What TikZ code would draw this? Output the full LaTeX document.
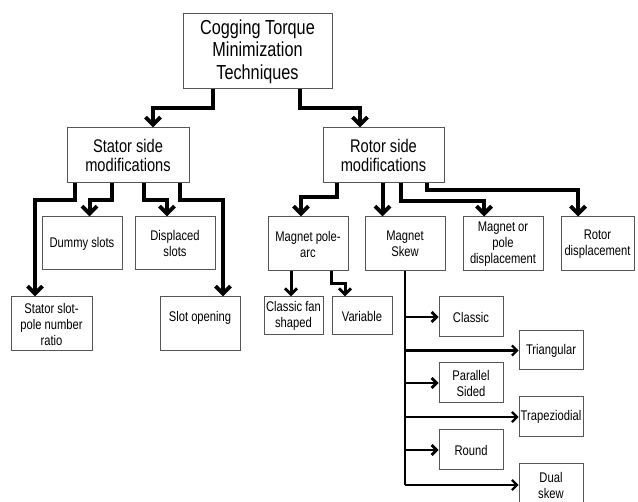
\documentclass[tikz,border=0pt]{standalone}
\usepackage{fontspec}
\setmainfont{Liberation Sans}[FakeStretch=0.8]
\usetikzlibrary{arrows.meta}
\definecolor{boxgray}{HTML}{555555}
\newcommand\cgsmall{\fontsize{14}{16}\selectfont}
\newcommand\cgmid{\fontsize{18.3}{18.5}\selectfont}
\newcommand\cgbig{\fontsize{20.3}{22.7}\selectfont}
\begin{document}
\begin{tikzpicture}[x=1pt,y=-1pt,
  box/.style={draw=boxgray, line width=1pt, rectangle, align=center, inner sep=0pt, font=\cgsmall, minimum width=80pt, minimum height=54pt},
  conn/.style={line width=4pt, -{Straight Barb[length=7.5pt,width=15pt]}},
  mconn/.style={line width=3pt, -{Straight Barb[length=6pt,width=12pt]}},
  nearbr/.style={line width=2.8pt, -{Straight Barb[length=5pt,width=10pt]}},
  farbr/.style={line width=2.2pt, -{Straight Barb[length=5pt,width=10pt]}},
  trunk/.style={line width=2.5pt}]
\clip (0,0) rectangle (638,502);
\fill[white] (0,0) rectangle (638,502);
% boxes
\node[box, font=\cgbig, minimum width=149pt, minimum height=75pt] (root) at (257.5,51.5) {Cogging Torque\\Minimization\\Techniques};
\node[box, font=\cgmid, minimum width=122pt, minimum height=55pt] (stator) at (128,155.5) {Stator side\\modifications};
\node[box, font=\cgmid, minimum width=121pt, minimum height=55pt] (rotor) at (383.5,155.5) {Rotor side\\modifications};
\node[box, minimum width=81pt] (slotpole) at (51.5,324) {Stator slot-\\pole number\\ratio};
\node[box, minimum height=53pt] (dummy) at (82,243.5) {Dummy slots};
\node[box, minimum height=53pt] (displaced) at (175,243.5) {Displaced\\slots};
\node[box] (slotopen) at (200,324) {Slot opening\\\mbox{}};
\node[box] (polearc) at (308,244) {Magnet pole-\\arc};
\node[box] (skew) at (405,244) {Magnet\\Skew};
\node[box] (magpole) at (503,244) {Magnet or\\pole\\displacement};
\node[box, minimum width=73pt] (rotordisp) at (597.5,244) {Rotor\\displacement};
\node[box, minimum width=59pt, minimum height=38pt] (fan) at (293.5,316) {Classic fan\\shaped};
\node[box, minimum width=60pt, minimum height=38pt] (variable) at (362,316) {Variable};
\node[box, minimum width=64pt, minimum height=40pt] (classic) at (471,317) {Classic};
\node[box, minimum width=64pt, minimum height=39pt] (triangular) at (551,350.5) {Triangular};
\node[box, minimum width=64pt, minimum height=40pt] (parallel) at (471,383) {Parallel\\Sided};
\node[box, minimum width=64pt, minimum height=40pt] (trapez) at (551,417) {Trapeziodial};
\node[box, minimum width=64pt, minimum height=40pt] (round) at (471,450) {Round};
\node[box, minimum width=64pt, minimum height=42pt] (dual) at (551,485) {Dual\\skew};
% root connectors
\draw[conn] ([xshift=-44.5pt]root.south) -- ++(0,19) -| ([xshift=25pt]stator.north);
\draw[conn] ([xshift=42.5pt]root.south) -- ++(0,19) -| ([xshift=-23.5pt]rotor.north);
% stator connectors
\draw[conn] ([xshift=-53pt]stator.south) -- ++(0,17) -| ([xshift=-16.5pt]slotpole.north);
\draw[conn] ([xshift=-16pt]stator.south) -- ++(0,17) -| ([xshift=7.5pt]dummy.north);
\draw[conn] ([xshift=16pt]stator.south) -- ++(0,17) -| ([xshift=-8pt]displaced.north);
\draw[conn] ([xshift=52pt]stator.south) -- ++(0,17) -| ([xshift=23pt]slotopen.north);
% rotor connectors
\draw[conn] ([xshift=-46.5pt]rotor.south) -- ++(0,14) -| ([xshift=-7pt]polearc.north);
\draw[conn] ([xshift=-1pt]rotor.south) -- ([xshift=-1pt]rotor.south |- skew.north);
\draw[conn] ([xshift=17.5pt]rotor.south) -- ++(0,18) -| ([xshift=-19pt]magpole.north);
\draw[conn] ([xshift=43.5pt]rotor.south) -- ++(0,7) -| ([xshift=-19.5pt]rotordisp.north);
% pole-arc connectors
\draw[mconn] ([xshift=-17pt]polearc.south) -- ([xshift=-17pt]polearc.south |- fan.north);
\draw[mconn] ([xshift=23pt]polearc.south) -- ++(0,12) -| ([xshift=-17pt]variable.north);
% skew tree
\draw[trunk] (skew.south) -- (skew.south |- dual.west);
\draw[nearbr] (skew.south |- classic.west) -- (classic.west);
\draw[farbr] (skew.south |- triangular.west) -- (triangular.west);
\draw[nearbr] (skew.south |- parallel.west) -- (parallel.west);
\draw[farbr] (skew.south |- trapez.west) -- (trapez.west);
\draw[nearbr] (skew.south |- round.west) -- (round.west);
\draw[farbr] (skew.south |- dual.west) -- (dual.west);
\end{tikzpicture}
\end{document}
